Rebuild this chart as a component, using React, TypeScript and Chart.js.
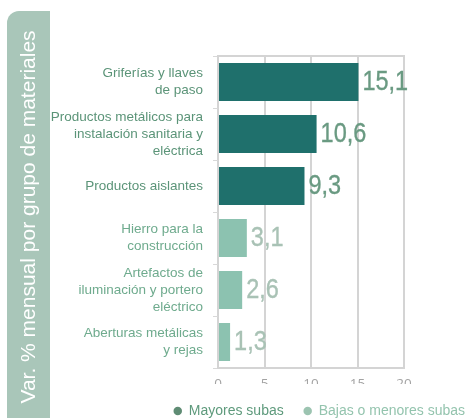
import React, { useEffect, useRef } from "react";
import { Chart, registerables } from "chart.js";

Chart.register(...registerables);

const categories: string[][] = [
  ["Griferías y llaves", "de paso"],
  ["Productos metálicos para", "instalación sanitaria y", "eléctrica"],
  ["Productos aislantes"],
  ["Hierro para la", "construcción"],
  ["Artefactos de", "iluminación y portero", "eléctrico"],
  ["Aberturas metálicas", "y rejas"],
];
const seriesNames = ["Mayores subas", "Bajas o menores subas"];
const mayoresSubas: (number | null)[] = [15.1, 10.6, 9.3, null, null, null];
const bajasSubas: (number | null)[] = [null, null, null, 3.1, 2.6, 1.3];
const axisTitle = "Var. % mensual por grupo de materiales";
const xMin = 0;
const xMax = 20;
const xStep = 5;

const DARK = "#1f706c";
const LIGHT = "#8cc2b0";
const SANS = '"Liberation Sans", Arial, Helvetica, sans-serif';

const fmt = (v: number) => v.toFixed(1).replace(".", ",");

export default function App() {
  const ref = useRef<HTMLCanvasElement>(null);

  useEffect(() => {
    const canvas = ref.current;
    if (!canvas) return;

    const bandPlugin = {
      id: "band",
      beforeDraw(chart: any) {
        const ctx = chart.ctx;
        ctx.save();
        ctx.fillStyle = "#a9c6b9";
        ctx.beginPath();
        if ((ctx as any).roundRect) {
          (ctx as any).roundRect(7, 11, 43, 430, [12, 0, 0, 0]);
        } else {
          ctx.rect(7, 11, 43, 430);
        }
        ctx.fill();
        ctx.fillStyle = "#ffffff";
        ctx.font = "21px " + SANS;
        ctx.textAlign = "center";
        ctx.textBaseline = "alphabetic";
        ctx.translate(35, 217);
        ctx.rotate(-Math.PI / 2);
        ctx.fillText(axisTitle, 0, 0);
        ctx.restore();
      },
    };

    const topBorderPlugin = {
      id: "topBorder",
      beforeDatasetsDraw(chart: any) {
        const { ctx, chartArea } = chart;
        ctx.save();
        ctx.strokeStyle = "#d4d4d4";
        ctx.lineWidth = 2;
        ctx.beginPath();
        ctx.moveTo(chartArea.left - 1, chartArea.top);
        ctx.lineTo(chartArea.right + 1, chartArea.top);
        ctx.stroke();
        ctx.restore();
      },
    };

    const valueLabelPlugin = {
      id: "valueLabels",
      afterDatasetsDraw(chart: any) {
        const ctx = chart.ctx;
        chart.data.datasets.forEach((ds: any, di: number) => {
          const meta = chart.getDatasetMeta(di);
          meta.data.forEach((el: any, i: number) => {
            const v = ds.data[i];
            if (v == null) return;
            const color = di === 0 ? "#6a9a82" : "#a9c2b5";
            ctx.save();
            ctx.font = "27px " + SANS;
            ctx.textAlign = "left";
            ctx.textBaseline = "middle";
            ctx.fillStyle = color;
            ctx.strokeStyle = color;
            ctx.lineWidth = 0.35;
            ctx.translate(el.x + 4, el.y + 1);
            ctx.scale(0.87, 1);
            ctx.fillText(fmt(v), 0, 0);
            ctx.strokeText(fmt(v), 0, 0);
            ctx.restore();
          });
        });
      },
    };

    const chart = new Chart(canvas, {
      type: "bar",
      data: {
        labels: categories,
        datasets: [
          {
            label: seriesNames[0],
            data: mayoresSubas,
            backgroundColor: DARK,
            borderWidth: 0,
            grouped: false,
            barPercentage: 0.73,
            categoryPercentage: 1,
            xAxisID: "x",
            yAxisID: "y",
          },
          {
            label: seriesNames[1],
            data: bajasSubas,
            backgroundColor: LIGHT,
            borderWidth: 0,
            grouped: false,
            barPercentage: 0.73,
            categoryPercentage: 1,
            xAxisID: "x",
            yAxisID: "y",
          },
        ] as any,
      },
      options: {
        indexAxis: "y",
        responsive: false,
        maintainAspectRatio: false,
        animation: false,
        layout: { padding: { top: 56, left: 0, right: 0, bottom: 0 } },
        scales: {
          x: {
            type: "linear",
            position: "bottom",
            min: xMin,
            max: xMax,
            ticks: {
              stepSize: xStep,
              color: "#a3a3a3",
              padding: 8,
              font: { family: '"Open Sans", sans-serif', size: 13.5 },
            },
            grid: {
              color: "#d4d4d4",
              lineWidth: 2,
              drawTicks: false,
            },
            border: { display: true, color: "#d4d4d4", width: 2 },
            afterFit: (s: any) => {
              s.height = 16;
            },
          },
          y: {
            type: "category",
            position: "left",
            ticks: {
              autoSkip: false,
              color: (c: any) => (c.index < 3 ? "#5b9478" : "#6fab8e"),
              padding: 10,
              font: { family: SANS, size: 13.5, lineHeight: 1.25 },
            },
            grid: {
              drawOnChartArea: false,
              drawTicks: true,
              tickLength: 5,
              color: "#d8d8d8",
            },
            border: { display: false },
            afterFit: (s: any) => {
              s.width = 218;
            },
          },
          yRight: {
            type: "category",
            position: "right",
            display: true,
            ticks: { display: false },
            grid: { display: false },
            border: { display: false },
            afterFit: (s: any) => {
              s.width = 81;
            },
          },
        } as any,
        plugins: {
          legend: {
            display: true,
            position: "bottom",
            align: "end",
            labels: {
              usePointStyle: true,
              pointStyle: "circle",
              boxWidth: 8,
              boxHeight: 6,
              padding: 20,
              font: { family: SANS, size: 14 },
              generateLabels: () => [
                {
                  text: seriesNames[0],
                  fillStyle: "#5f8c74",
                  strokeStyle: "#5f8c74",
                  fontColor: "#5e9a7c",
                  lineWidth: 0,
                  pointStyle: "circle",
                  hidden: false,
                  datasetIndex: 0,
                },
                {
                  text: seriesNames[1],
                  fillStyle: "#9cc4b1",
                  strokeStyle: "#9cc4b1",
                  fontColor: "#94c4ae",
                  lineWidth: 0,
                  pointStyle: "circle",
                  hidden: false,
                  datasetIndex: 1,
                },
              ],
            },
          },
          tooltip: { enabled: false },
        },
      },
      plugins: [bandPlugin, topBorderPlugin, valueLabelPlugin],
    });

    return () => chart.destroy();
  }, []);

  return (
    <div
      style={{
        position: "absolute",
        left: 0,
        top: 0,
        width: 465,
        height: 418,
        overflow: "hidden",
        background: "#ffffff",
      }}
    >
      <canvas ref={ref} width={485} height={428} style={{ display: "block" }} />
    </div>
  );
}
